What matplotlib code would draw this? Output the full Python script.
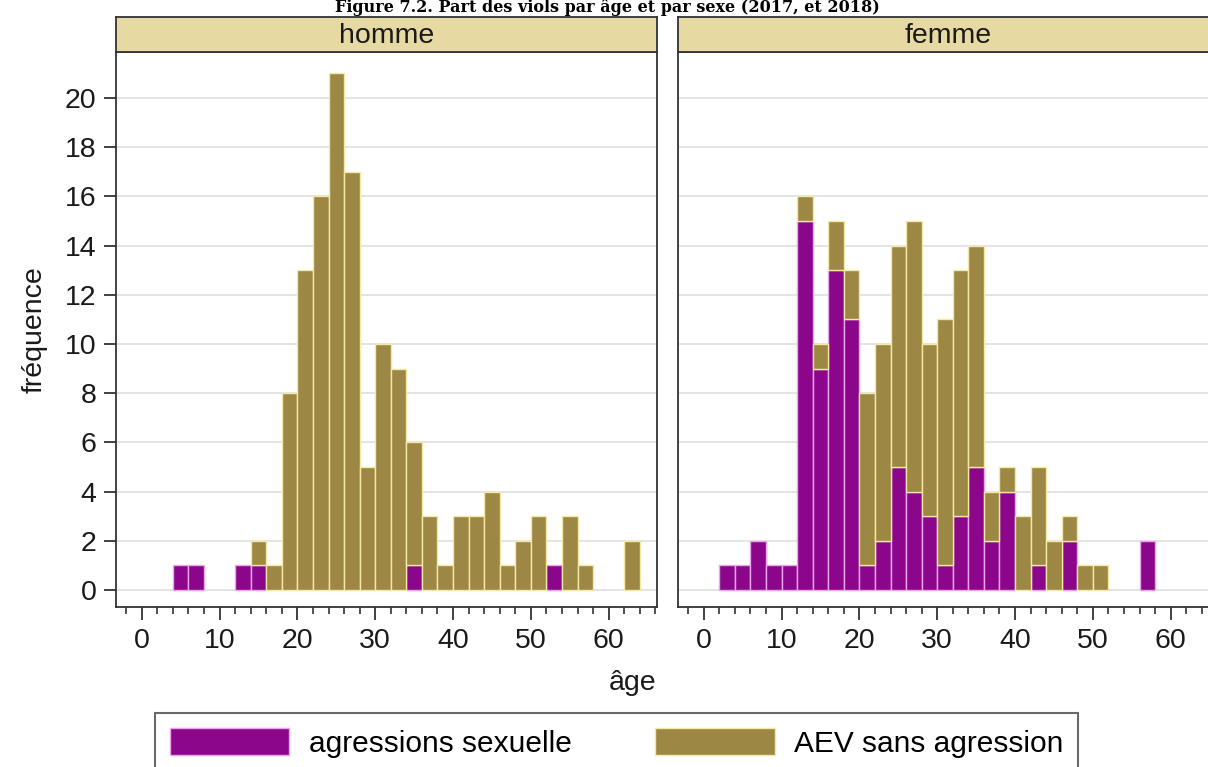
import numpy as np
import matplotlib.pyplot as plt
from matplotlib.patches import Patch
from matplotlib.ticker import MultipleLocator

plt.rcParams['font.family'] = ['Liberation Sans', 'DejaVu Sans']

# left edges of the 2-year age bins
ages = list(range(0, 64, 2))

homme_agr = [0, 0, 1, 1, 0, 0, 1, 1, 0, 0, 0, 0, 0, 0, 0, 0,
             0, 1, 0, 0, 0, 0, 0, 0, 0, 0, 1, 0, 0, 0, 0, 0]
homme_aev = [0, 0, 0, 0, 0, 0, 0, 1, 1, 8, 13, 16, 21, 17, 5, 10,
             9, 5, 3, 1, 3, 3, 4, 1, 2, 3, 0, 3, 1, 0, 0, 2]
femme_agr = [0, 1, 1, 2, 1, 1, 15, 9, 13, 11, 1, 2, 5, 4, 3, 1,
             3, 5, 2, 4, 0, 1, 0, 2, 0, 0, 0, 0, 2, 0, 0, 0]
femme_aev = [0, 0, 0, 0, 0, 0, 1, 1, 2, 2, 7, 8, 9, 11, 7, 10,
             10, 9, 2, 1, 3, 4, 2, 1, 1, 1, 0, 0, 0, 0, 0, 0]

panels = ['homme', 'femme']
series = ['agressions sexuelle', 'AEV sans agression']
title = 'Figure 7.2. Part des viols par âge et par sexe (2017, et 2018)'

W, H = 1208, 767
PURPLE = '#8b068b'
OLIVE = '#9c8744'
STRIP = '#e6d9a2'
FS = 20.5


def box(x0, y0, x1, y1):
    # pixel box (from top-left) -> figure fraction rect
    return [x0 / W, 1 - y1 / H, (x1 - x0) / W, (y1 - y0) / H]


fig = plt.figure(figsize=(W / 100, H / 100), dpi=100)

data = {'homme': (homme_agr, homme_aev), 'femme': (femme_agr, femme_aev)}
lefts = [116, 678]
x = np.array(ages)
for i, (name, left) in enumerate(zip(panels, lefts)):
    a = np.array(data[name][0])
    b = np.array(data[name][1])
    ax = fig.add_axes(box(left, 52, left + 541, 607))
    m = a > 0
    ax.bar(x[m], a[m], width=2, align='edge', color=PURPLE,
           edgecolor='#eaa6ea', linewidth=1)
    m = b > 0
    ax.bar(x[m], b[m], bottom=a[m], width=2, align='edge', color=OLIVE,
           edgecolor='#f4eaa6', linewidth=1)

    ax.set_xlim(-3.3, 66.2)
    ax.set_ylim(-0.69, 21.87)
    ax.set_xticks(range(0, 70, 10))
    ax.xaxis.set_minor_locator(MultipleLocator(2))
    ax.set_yticks(range(0, 22, 2))
    ax.yaxis.grid(True, color='#e2e2e2', lw=1.3)
    ax.set_axisbelow(True)
    ax.tick_params(which='major', direction='out', length=9, width=1.3,
                   labelsize=FS, color='#333', labelcolor='#1a1a1a')
    ax.tick_params(axis='x', which='major', pad=6)
    ax.tick_params(axis='y', which='major', pad=5)
    ax.tick_params(axis='x', which='minor', length=5, width=1.2, color='#333')
    if i == 1:
        ax.tick_params(axis='y', length=0, labelleft=False)
    for s in ax.spines.values():
        s.set_linewidth(1.3)
        s.set_color('#333')

    sax = fig.add_axes(box(left, 17, left + 541, 52))
    sax.set_facecolor(STRIP)
    sax.set_xticks([])
    sax.set_yticks([])
    for s in sax.spines.values():
        s.set_linewidth(1.3)
        s.set_color('#333')
    sax.text(0.5, 0.45, name, ha='center', va='center', fontsize=FS,
             color='#1a1a1a', transform=sax.transAxes)

fig.text(35 / W, 1 - 330 / H, 'fréquence', rotation=90, ha='center',
         va='center', fontsize=FS, color='#1a1a1a')
fig.text(633 / W, 1 - 683 / H, 'âge', ha='center', va='center',
         fontsize=FS, color='#1a1a1a')
fig.text(607 / W, 1 - 12 / H, title, ha='center', va='baseline',
         fontsize=11.5, fontweight='bold', family='DejaVu Serif')

handles = [Patch(facecolor=PURPLE, edgecolor='#eaa6ea'),
           Patch(facecolor=OLIVE, edgecolor='#f4eaa6')]
leg = fig.legend(handles, series, loc='upper left',
                 bbox_to_anchor=(155 / W, 1 - 713 / H), borderaxespad=0,
                 ncol=2, fontsize=21.5, handlelength=4.0, handleheight=1.0,
                 handletextpad=0.65, columnspacing=2.8, borderpad=0.5,
                 fancybox=False, frameon=True)
leg.get_frame().set_edgecolor('#444')
leg.get_frame().set_linewidth(1.5)

fig.savefig('out.png', dpi=100)
